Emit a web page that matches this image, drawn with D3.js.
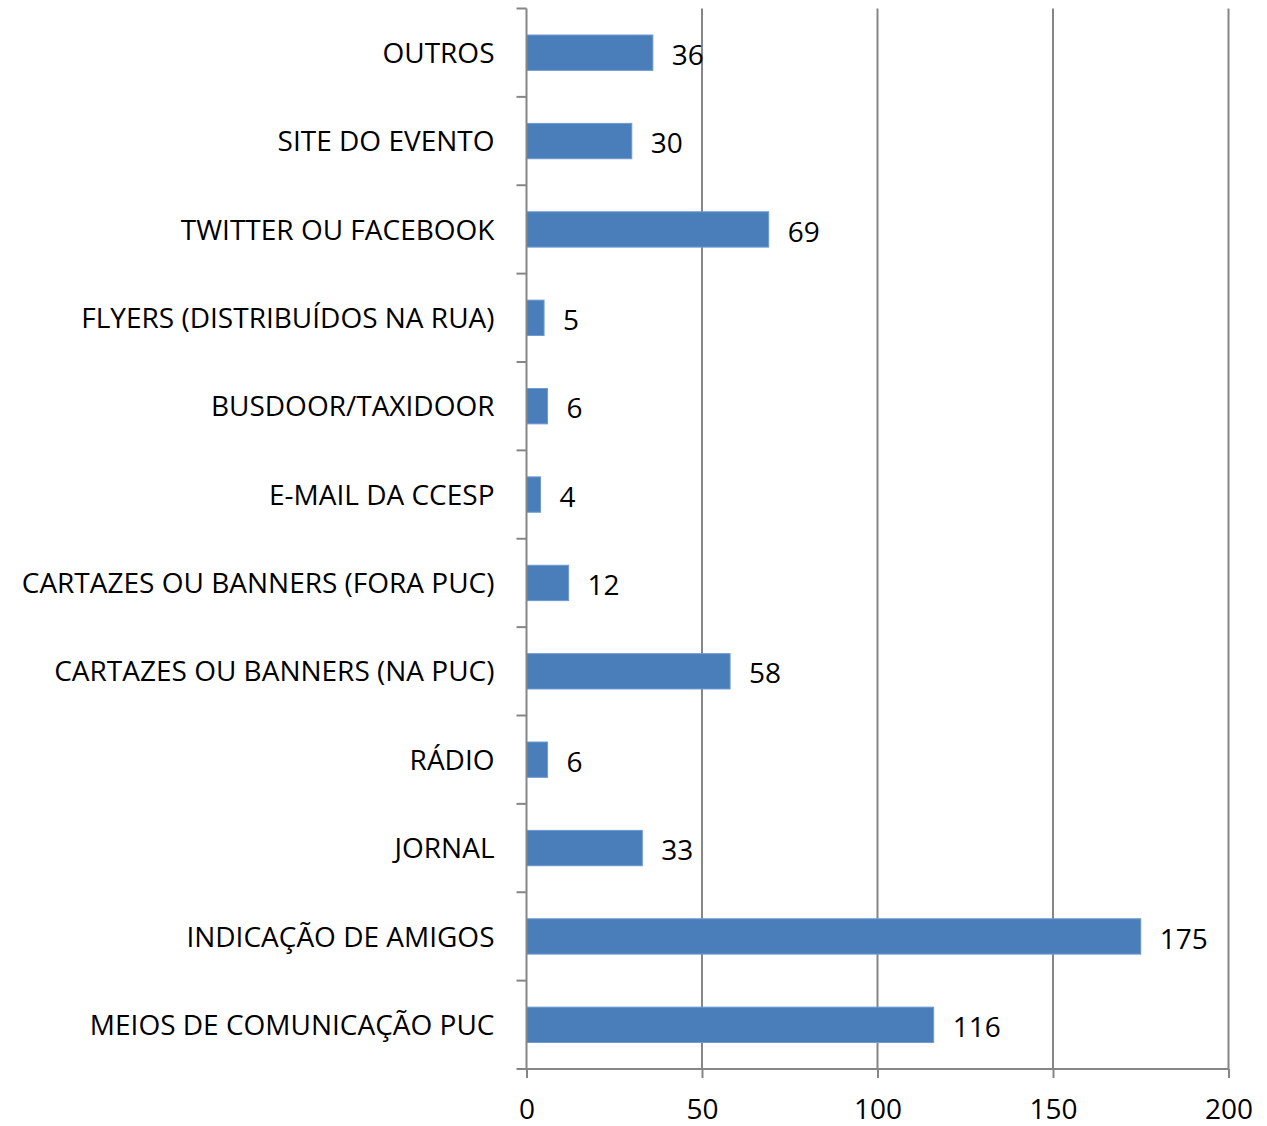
<!DOCTYPE html>
<html>
<head>
<meta charset="utf-8">
<script src="https://cdn.jsdelivr.net/npm/d3@7/dist/d3.min.js"></script>
<style>
  body { margin: 0; background: #fff; }
  svg text { font-family: "Open Sans", "Noto Sans", sans-serif; fill: #000; }
  .axis path, .axis line { stroke: #868686; }
</style>
</head>
<body>
<svg width="1267" height="1126"></svg>
<script>
// categories top to bottom
const categories = [
  'OUTROS',
  'SITE DO EVENTO',
  'TWITTER OU FACEBOOK',
  'FLYERS (DISTRIBUÍDOS NA RUA)',
  'BUSDOOR/TAXIDOOR',
  'E-MAIL DA CCESP',
  'CARTAZES OU BANNERS (FORA PUC)',
  'CARTAZES OU BANNERS (NA PUC)',
  'RÁDIO',
  'JORNAL',
  'INDICAÇÃO DE AMIGOS',
  'MEIOS DE COMUNICAÇÃO PUC'
];
const values = [36, 30, 69, 5, 6, 4, 12, 58, 6, 33, 175, 116];
const xTicks = [0, 50, 100, 150, 200];

const fontSize = '28px';
const margin = { left: 526.5, right: 38.5, top: 8.5, bottom: 57 };
const svg = d3.select('svg');
const width = +svg.attr('width');
const height = +svg.attr('height');
const innerWidth = width - margin.left - margin.right;
const innerHeight = height - margin.top - margin.bottom;

const g = svg.append('g')
    .attr('transform', `translate(${margin.left},${margin.top})`);

const xScale = d3.scaleLinear()
    .domain([0, 200])
    .range([0, innerWidth]);

const yScale = d3.scaleBand()
    .domain(categories)
    .range([0, innerHeight])
    .paddingInner(0.6)
    .paddingOuter(0.3);

// gridlines
g.append('g')
    .selectAll('line')
    .data(xTicks.slice(1))
  .enter().append('line')
    .attr('x1', d => xScale(d))
    .attr('x2', d => xScale(d))
    .attr('y1', 0)
    .attr('y2', innerHeight)
    .attr('stroke', '#868686')
    .attr('stroke-width', 2);

// bars
g.selectAll('rect.bar').data(values)
  .enter().append('rect')
    .attr('class', 'bar')
    .attr('x', 0)
    .attr('y', (d, i) => yScale(categories[i]))
    .attr('width', d => xScale(d))
    .attr('height', yScale.bandwidth())
    .attr('fill', '#4a7ebb')
    .attr('stroke', '#6f9ad0')
    .attr('stroke-width', 1);

// value labels
g.selectAll('text.value').data(values)
  .enter().append('text')
    .attr('class', 'value')
    .attr('x', d => xScale(d) + 19)
    .attr('y', (d, i) => yScale(categories[i]) + yScale.bandwidth() / 2 + 2)
    .attr('dy', '0.36em')
    .style('font-size', fontSize)
    .text(d => d);

// x axis
const xAxisG = g.append('g')
    .attr('class', 'axis')
    .attr('transform', `translate(0,${innerHeight})`)
    .call(d3.axisBottom(xScale).tickValues(xTicks).tickSize(9).tickPadding(21).tickSizeOuter(0));
xAxisG.select('.domain')
    .attr('d', `M-10,0H${innerWidth}`)
    .attr('stroke-width', 2);
xAxisG.selectAll('line').attr('stroke-width', 2);
xAxisG.selectAll('text').style('font-size', fontSize);

// y axis: ticks at band boundaries
const yAxisG = g.append('g').attr('class', 'axis');
yAxisG.append('line')
    .attr('x1', 0).attr('x2', 0)
    .attr('y1', 0).attr('y2', innerHeight)
    .attr('stroke', '#868686')
    .attr('stroke-width', 2);
const step = innerHeight / categories.length;
yAxisG.selectAll('line.tick')
    .data(d3.range(categories.length))
  .enter().append('line')
    .attr('class', 'tick')
    .attr('x1', -10).attr('x2', 0)
    .attr('y1', i => i * step)
    .attr('y2', i => i * step)
    .attr('stroke', '#868686')
    .attr('stroke-width', 2);

yAxisG.selectAll('text')
    .data(categories)
  .enter().append('text')
    .attr('x', -32)
    .attr('y', d => yScale(d) + yScale.bandwidth() / 2)
    .attr('dy', '0.36em')
    .attr('text-anchor', 'end')
    .style('font-size', fontSize)
    .text(d => d);
</script>
</body>
</html>
